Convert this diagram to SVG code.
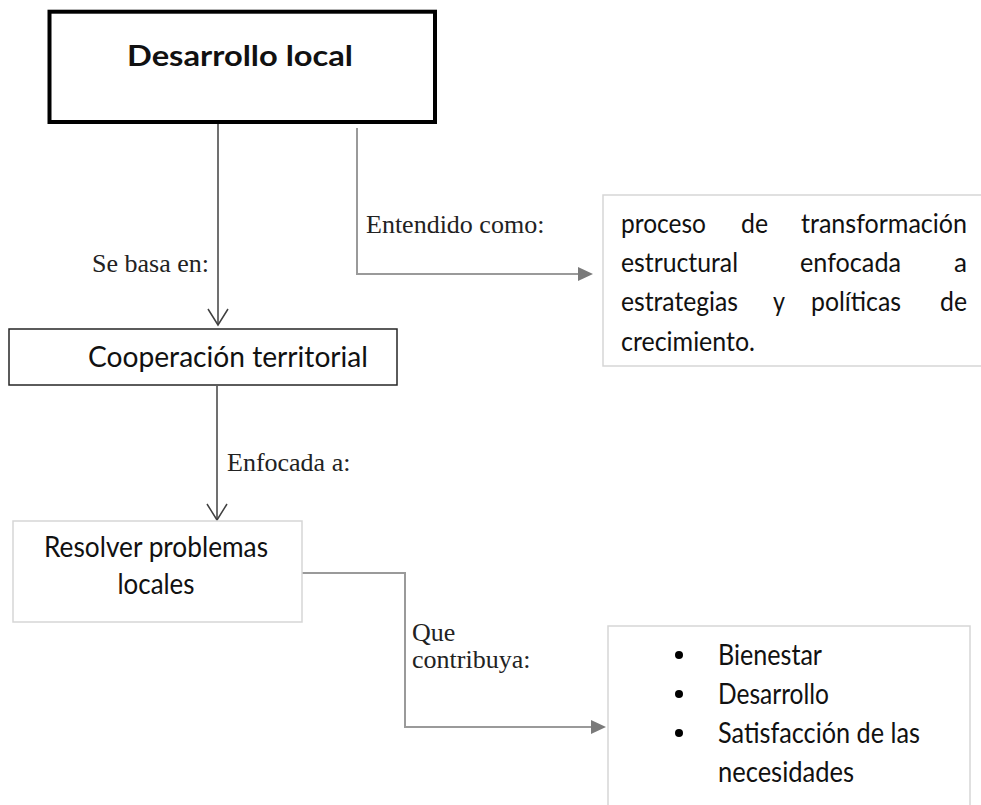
<svg xmlns="http://www.w3.org/2000/svg" width="981" height="805" viewBox="0 0 981 805">
<defs>
<style>
.body{font-family:Lato,"Open Sans","Liberation Sans",sans-serif;font-size:28px;fill:#111}
.def{font-size:26.5px}
.lbl{font-family:"Liberation Serif","Times New Roman",serif;font-size:26px;fill:#222}
.dark{fill:none;stroke:#404040;stroke-width:1.5}
.grey{fill:none;stroke:#9a9a9a;stroke-width:2}
.lightbox{fill:#fff;stroke:#d6d6d6;stroke-width:1.5}
</style>
</defs>
<rect width="981" height="805" fill="#fff"/>
<g id="connectors">
  <line class="dark" x1="218" y1="124" x2="218" y2="325"/>
  <polyline class="dark" points="208,309 218,325 228,309"/>
  <line class="dark" x1="217" y1="386" x2="217" y2="520"/>
  <polyline class="dark" points="207,504 217,520 227,504"/>
  <polyline class="grey" points="357,128 357,274 580,274"/>
  <polygon points="578,267 593,274 578,281" fill="#7a7a7a"/>
  <polyline class="grey" points="302,573 405,573 405,727 593,727"/>
  <polygon points="591,720 606,727 591,734" fill="#7a7a7a"/>
  <text class="lbl" x="92" y="272">Se basa en:</text>
  <text class="lbl" x="366" y="233">Entendido como:</text>
  <text class="lbl" x="227" y="471">Enfocada a:</text>
  <text class="lbl" x="412" y="641">Que</text>
  <text class="lbl" x="412" y="668">contribuya:</text>
</g>
<g id="desarrollo-local">
  <rect x="49.5" y="11.7" width="385.5" height="110.3" fill="#fff" stroke="#000" stroke-width="4"/>
  <text class="body" x="240" y="66" text-anchor="middle" font-weight="bold" font-size="34" fill="#000" textLength="226" lengthAdjust="spacingAndGlyphs">Desarrollo local</text>
</g>
<g id="definicion">
  <rect class="lightbox" x="603" y="195" width="400" height="171"/>
  <text class="body def" x="621" y="233" textLength="85" lengthAdjust="spacingAndGlyphs">proceso</text>
  <text class="body def" x="741" y="233" textLength="27" lengthAdjust="spacingAndGlyphs">de</text>
  <text class="body def" x="967" y="233" text-anchor="end" textLength="166" lengthAdjust="spacingAndGlyphs">transformación</text>
  <text class="body def" x="621" y="272" textLength="117" lengthAdjust="spacingAndGlyphs">estructural</text>
  <text class="body def" x="800" y="272" textLength="101" lengthAdjust="spacingAndGlyphs">enfocada</text>
  <text class="body def" x="967" y="272" text-anchor="end" textLength="13" lengthAdjust="spacingAndGlyphs">a</text>
  <text class="body def" x="621" y="311" textLength="117" lengthAdjust="spacingAndGlyphs">estrategias</text>
  <text class="body def" x="773" y="311" textLength="12" lengthAdjust="spacingAndGlyphs">y</text>
  <text class="body def" x="811" y="311" textLength="90" lengthAdjust="spacingAndGlyphs">políticas</text>
  <text class="body def" x="967" y="311" text-anchor="end" textLength="27" lengthAdjust="spacingAndGlyphs">de</text>
  <text class="body def" x="621" y="351" textLength="134" lengthAdjust="spacingAndGlyphs">crecimiento.</text>
</g>
<g id="cooperacion-territorial">
  <rect x="9" y="329" width="388" height="56" fill="#fff" stroke="#262626" stroke-width="1.5"/>
  <text class="body" x="88" y="367" font-size="30" textLength="280" lengthAdjust="spacingAndGlyphs">Cooperación territorial</text>
</g>
<g id="resolver-problemas">
  <rect class="lightbox" x="13" y="521" width="289" height="101"/>
  <text class="body" x="156" y="557" text-anchor="middle" textLength="224" lengthAdjust="spacingAndGlyphs">Resolver problemas</text>
  <text class="body" x="156" y="594" text-anchor="middle" textLength="77" lengthAdjust="spacingAndGlyphs">locales</text>
</g>
<g id="contribuciones">
  <rect class="lightbox" x="608" y="626" width="362" height="200"/>
  <circle cx="679" cy="655" r="4" fill="#000"/>
  <circle cx="679" cy="694" r="4" fill="#000"/>
  <circle cx="679" cy="733" r="4" fill="#000"/>
  <text class="body" x="718" y="665" font-size="27" textLength="104" lengthAdjust="spacingAndGlyphs">Bienestar</text>
  <text class="body" x="718" y="704" font-size="27" textLength="111" lengthAdjust="spacingAndGlyphs">Desarrollo</text>
  <text class="body" x="718" y="743" font-size="27" textLength="202" lengthAdjust="spacingAndGlyphs">Satisfacción de las</text>
  <text class="body" x="718" y="782" font-size="27" textLength="136" lengthAdjust="spacingAndGlyphs">necesidades</text>
</g>
</svg>
